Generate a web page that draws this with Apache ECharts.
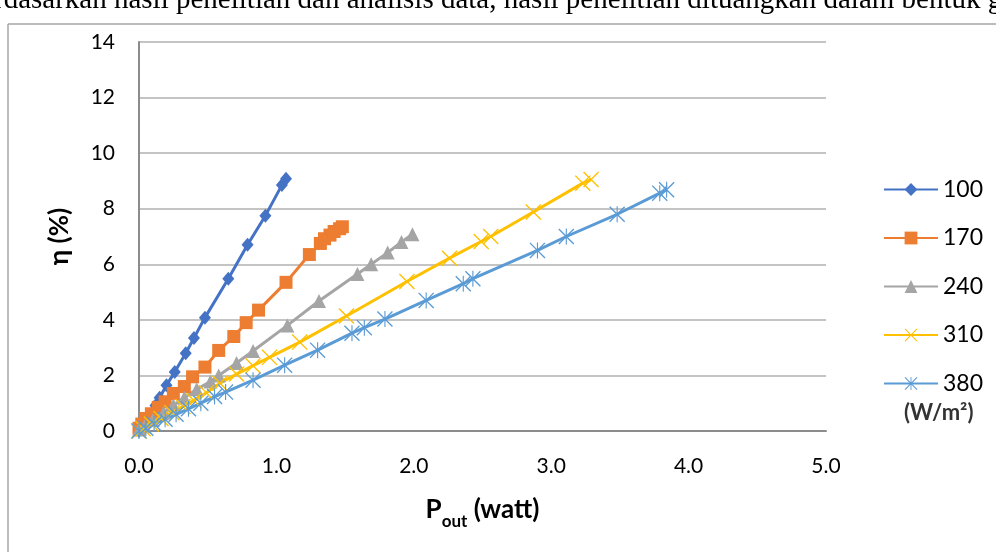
<!DOCTYPE html>
<html>
<head>
<meta charset="utf-8">
<script src="https://cdn.jsdelivr.net/npm/echarts@6/dist/echarts.min.js"></script>
<style>
  html, body { margin: 0; padding: 0; background: #fff; }
  #chart { width: 996px; height: 552px; }
</style>
</head>
<body>
<div id="chart"></div>
<script>
// irradiance levels (W/m2)
var seriesNames = ['100', '170', '240', '310', '380'];

// P_out (watt) and efficiency (%) per irradiance
var p100 = [0.00, 0.02, 0.05, 0.08, 0.12, 0.15, 0.20, 0.26, 0.34, 0.40, 0.48, 0.65, 0.79, 0.92, 1.04, 1.07];
var e100 = [0.00, 0.12, 0.36, 0.60, 0.92, 1.20, 1.65, 2.12, 2.80, 3.35, 4.08, 5.48, 6.70, 7.75, 8.85, 9.08];

var p170 = [0.00, 0.02, 0.05, 0.09, 0.14, 0.19, 0.25, 0.33, 0.39, 0.48, 0.58, 0.69, 0.78, 0.87, 1.07, 1.24, 1.32, 1.35, 1.39, 1.42, 1.46, 1.48];
var e170 = [0.10, 0.25, 0.45, 0.62, 0.85, 1.05, 1.35, 1.60, 1.95, 2.30, 2.90, 3.40, 3.90, 4.35, 5.35, 6.35, 6.75, 6.92, 7.05, 7.18, 7.28, 7.35];

var p240 = [0.00, 0.04, 0.10, 0.18, 0.25, 0.33, 0.42, 0.52, 0.58, 0.71, 0.83, 1.08, 1.31, 1.59, 1.69, 1.81, 1.91, 1.99];
var e240 = [0.05, 0.17, 0.40, 0.67, 0.93, 1.20, 1.50, 1.78, 2.00, 2.45, 2.88, 3.80, 4.68, 5.65, 6.00, 6.42, 6.80, 7.08];

var p310 = [0.00, 0.03, 0.09, 0.16, 0.24, 0.32, 0.40, 0.49, 0.59, 0.71, 0.83, 0.95, 1.17, 1.51, 1.95, 2.26, 2.49, 2.56, 2.87, 3.23, 3.29];
var e310 = [0.00, 0.08, 0.25, 0.45, 0.66, 0.88, 1.10, 1.38, 1.72, 2.05, 2.35, 2.65, 3.20, 4.14, 5.38, 6.22, 6.82, 7.00, 7.88, 8.92, 9.05];

var p380 = [0.00, 0.05, 0.11, 0.19, 0.27, 0.36, 0.45, 0.55, 0.63, 0.83, 1.06, 1.30, 1.55, 1.64, 1.79, 2.09, 2.36, 2.43, 2.90, 3.11, 3.48, 3.79, 3.84];
var e380 = [0.00, 0.10, 0.25, 0.42, 0.60, 0.80, 1.00, 1.24, 1.40, 1.83, 2.37, 2.91, 3.52, 3.72, 4.03, 4.70, 5.30, 5.48, 6.50, 7.00, 7.80, 8.56, 8.68];

var xTicks = ['0.0', '1.0', '2.0', '3.0', '4.0', '5.0'];
var yTicks = [0, 2, 4, 6, 8, 10, 12, 14];

var colors = ['#4472C4', '#ED7D31', '#A5A5A5', '#FFC000', '#5B9BD5'];

// marker shapes like the spreadsheet ones
var xMark = 'path://M0,1.2L1.2,0L20,18.8L18.8,20ZM18.8,0L20,1.2L1.2,20L0,18.8Z';
var starMark = 'path://M0,1.2L1.2,0L20,18.8L18.8,20ZM18.8,0L20,1.2L1.2,20L0,18.8ZM9.3,0L10.7,0L10.7,20L9.3,20Z';
var symbols = ['diamond', 'rect', 'triangle', xMark, starMark];
var symbolSizes = [[12, 14], 13, 14, 16, 16];

function zip(xs, ys) {
    var out = [];
    for (var i = 0; i < xs.length; i++) out.push([xs[i], ys[i]]);
    return out;
}
var allData = [zip(p100, e100), zip(p170, e170), zip(p240, e240), zip(p310, e310), zip(p380, e380)];

var font = 'Lato, "Open Sans", sans-serif';

var chart = echarts.init(document.getElementById('chart'));

var series = seriesNames.map(function (name, i) {
    return {
        name: name,
        type: 'line',
        data: allData[i],
        symbol: symbols[i],
        symbolSize: symbolSizes[i],
        showAllSymbol: true,
        lineStyle: {color: colors[i], width: 3},
        itemStyle: {color: colors[i], borderWidth: 0},
        animation: false
    };
});

var option = {
    animation: false,
    color: colors,
    grid: {left: 139, right: 170, top: 42, bottom: 121, containLabel: false},
    xAxis: {
        type: 'value',
        min: 0, max: 5, interval: 1,
        axisLine: {show: true, lineStyle: {color: '#8c8c8c', width: 2}},
        axisTick: {show: false},
        splitLine: {show: false},
        axisLabel: {
            margin: 25,
            color: '#000', fontFamily: font, fontSize: 21,
            formatter: function (v) { return xTicks[Math.round(v)]; }
        },
        name: '{b|P}{s|out}{b| (watt)}',
        nameLocation: 'middle',
        nameGap: 66,
        nameTextStyle: {
            rich: {
                b: {fontFamily: font, fontSize: 26, fontWeight: 'bold', color: '#000', lineHeight: 32, verticalAlign: 'top'},
                s: {fontFamily: font, fontSize: 17, fontWeight: 'bold', color: '#000', lineHeight: 32, padding: [16, 0, 0, 0], verticalAlign: 'top'}
            }
        }
    },
    yAxis: {
        type: 'value',
        min: 0, max: 14, interval: 2,
        axisLine: {show: true, lineStyle: {color: '#8c8c8c', width: 2}},
        axisTick: {show: false},
        splitLine: {show: true, lineStyle: {color: '#b0b0b0', width: 1.5}},
        axisLabel: {
            margin: 24,
            color: '#000', fontFamily: font, fontSize: 21,
            formatter: function (v) { return yTicks.indexOf(v) >= 0 ? String(v) : ''; }
        },
        name: 'η (%)',
        nameLocation: 'middle',
        nameGap: 66,
        nameTextStyle: {fontFamily: font, fontSize: 26, fontWeight: 'bold', color: '#000'}
    },
    legend: {
        orient: 'vertical',
        left: 883,
        top: 178,
        padding: 0,
        itemWidth: 54,
        itemHeight: 16,
        itemGap: 25.5,
        data: seriesNames,
        textStyle: {fontFamily: font, fontSize: 23, lineHeight: 22, color: '#000'}
    },
    graphic: [
        {
            type: 'text', left: -6, top: -14,
            style: {
                text: 'rdasarkan hasil penelitian dan analisis data, hasil penelitian dituangkan dalam bentuk g',
                font: '29px "Liberation Serif", "Times New Roman", serif', fill: '#000'
            }
        },
        {
            type: 'line',
            shape: {x1: 8, y1: 24, x2: 1000, y2: 24},
            style: {stroke: '#a6a6a6', lineWidth: 1.5}
        },
        {
            type: 'line',
            shape: {x1: 8, y1: 24, x2: 8, y2: 560},
            style: {stroke: '#a6a6a6', lineWidth: 1.5}
        },
        {
            type: 'text', left: 898, top: 392, z: 100,
            style: {
                text: '(W/m²)',
                font: 'bold 22px Lato, "Open Sans", sans-serif', fill: '#333',
                backgroundColor: '#fff',
                padding: [10, 6, 4, 6]
            }
        }
    ],
    series: series
};

chart.setOption(option);
</script>
</body>
</html>
